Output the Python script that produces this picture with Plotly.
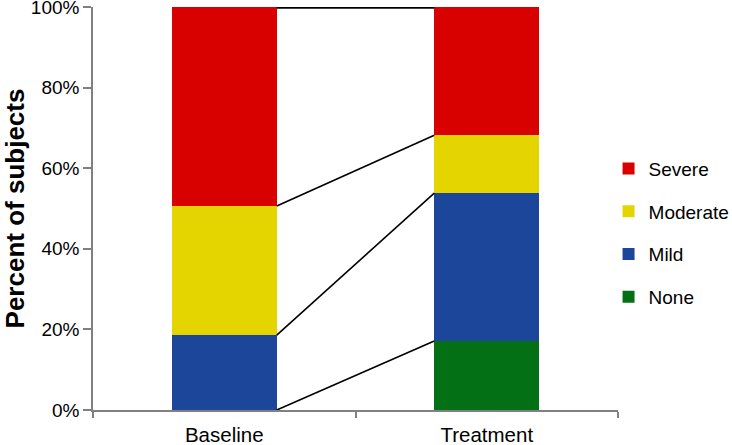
import numpy as np
import plotly.graph_objects as go

groups = ["Baseline", "Treatment"]
severity = ["None", "Mild", "Moderate", "Severe"]
# percent of subjects per severity, for Baseline and Treatment
pct_none = [0.0, 17.1]
pct_mild = [18.6, 36.7]
pct_moderate = [32.0, 14.4]
pct_severe = [49.4, 31.8]

colors = {"None": "#047016", "Mild": "#1b4699", "Moderate": "#e4d500", "Severe": "#d90000"}
values = {"None": pct_none, "Mild": pct_mild, "Moderate": pct_moderate, "Severe": pct_severe}

bar_width = 0.4
xpos = np.arange(len(groups))

fig = go.Figure()

for rank, name in enumerate(severity):
    fig.add_trace(go.Bar(
        x=xpos, y=values[name], name=name, width=bar_width,
        marker=dict(color=colors[name], line_width=0),
        legendgroup=name, legendrank=len(severity) - rank,
    ))

# series lines joining segment tops between the two bars
cum = np.cumsum([values[n] for n in severity], axis=0)
for i, name in enumerate(severity):
    fig.add_trace(go.Scatter(
        x=[xpos[0] + bar_width / 2, xpos[1] - bar_width / 2],
        y=[cum[i][0], cum[i][1]],
        mode="lines", showlegend=False, hoverinfo="skip",
        line=dict(color="black", width=3.5 if i == len(severity) - 1 else 1.6),
        cliponaxis=False,
    ))

fig.update_layout(
    barmode="stack",
    width=732, height=445,
    margin=dict(l=93, r=114, t=7, b=35, autoexpand=False),
    paper_bgcolor="white", plot_bgcolor="white",
    font=dict(family="Liberation Sans, Arial, sans-serif", size=19, color="black"),
    showlegend=True,
    legend=dict(
        traceorder="grouped", tracegroupgap=15,
        x=0.982, xanchor="left", y=0.44, yanchor="middle",
        font=dict(size=19), itemwidth=30,
    ),
    xaxis=dict(
        range=[-0.5, 1.5], tickvals=list(xpos), ticktext=groups,
        ticks="outside", ticklen=6, tickcolor="rgba(0,0,0,0)",
        showline=True, linecolor="#808080", linewidth=1.5,
        showgrid=False, zeroline=False, automargin=False,
        minor=dict(ticks="outside", tick0=0.5, dtick=1, ticklen=6,
                   tickcolor="#808080", tickwidth=1.5, showgrid=False),
        tickfont=dict(size=20.5),
    ),
    yaxis=dict(
        range=[0, 100], tickvals=[0, 20, 40, 60, 80, 100],
        ticktext=["0%", "20%", "40%", "60%", "80%", "100%"],
        ticks="outside", ticklen=8, tickcolor="#808080", tickwidth=1.5,
        showline=True, linecolor="#808080", linewidth=1.5,
        showgrid=False, zeroline=False, automargin=False,
        ticklabeloverflow="allow",
        title=dict(text="<b>Percent of subjects</b>", font=dict(size=26), standoff=12),
        tickfont=dict(size=19),
    ),
)

# drop the page's default body margin so the figure sits at the window's corner
fig.write_html(
    "out.html",
    config={"displayModeBar": False},
    post_script="document.body.style.margin='0';",
)
